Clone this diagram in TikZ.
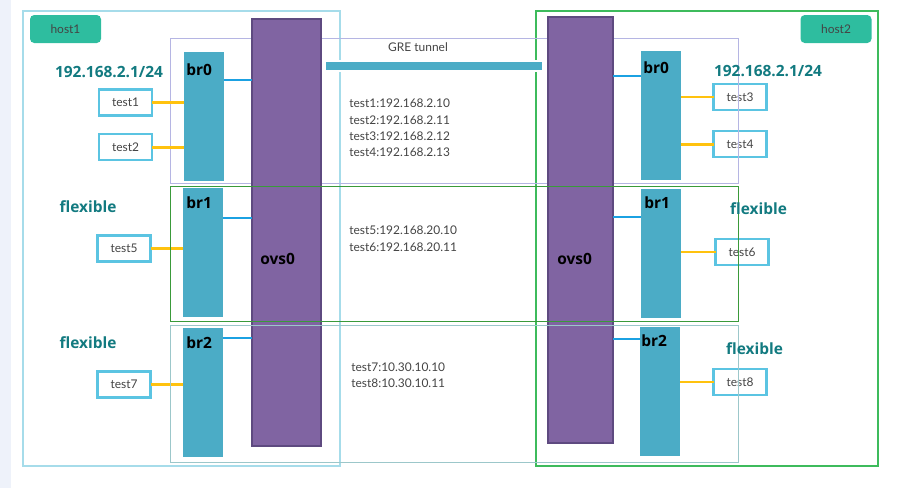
\documentclass[tikz,border=0pt]{standalone}
\usepackage{fontspec}
\setmainfont{Lato}
\newfontfamily\boldlbl{Open Sans}
\usepackage{xcolor}
\usetikzlibrary{positioning,shadows}

\definecolor{stripgrey}{HTML}{EEF2FA}
\definecolor{host1edge}{HTML}{A6DCEA}
\definecolor{host2edge}{HTML}{3DBB5C}
\definecolor{net0edge}{HTML}{B5B5E3}
\definecolor{net1edge}{HTML}{3A9A3A}
\definecolor{net2edge}{HTML}{9CC7CA}
\definecolor{ovspurple}{HTML}{8064A2}
\definecolor{ovsedge}{HTML}{5E4A80}
\definecolor{brblue}{HTML}{4BACC6}
\definecolor{testedge}{HTML}{5BC4E2}
\definecolor{vethyellow}{HTML}{FFC20E}
\definecolor{linkblue}{HTML}{1BA1E2}
\definecolor{netteal}{HTML}{127A80}
\definecolor{txtgray}{HTML}{444444}
\definecolor{hostteal}{HTML}{2EBD9F}

\newcommand{\pxu}{0.025cm}

\begin{document}
\begin{tikzpicture}[x=\pxu,y=-\pxu]
\tikzset{
  pxbox/.style 2 args={rectangle,inner sep=0pt,outer sep=0pt,minimum width=#1*\pxu,minimum height=#2*\pxu},
  ovsbox/.style={fill=ovspurple,draw=ovsedge,line width=0.9pt},
  brbox/.style={pxbox={40}{129},fill=brblue},
  testbox/.style={pxbox={53}{26},draw=testedge,line width=1.5pt,fill=white,text=txtgray,font=\fontsize{8.5}{10}\selectfont},
  hostlbl/.style={pxbox={71}{28},fill=hostteal,rounded corners=3pt,text=txtgray,font=\fontsize{8.5}{10}\selectfont},
  netlbl/.style={inner sep=0pt,text=netteal,font=\boldlbl\bfseries\fontsize{11}{13}\selectfont},
  brtxt/.style={anchor=west,inner sep=0pt,font=\boldlbl\bfseries\fontsize{11}{13}\selectfont},
  iptxt/.style={anchor=west,inner sep=0pt,align=left,text=txtgray,font=\fontsize{8.5}{11.7}\selectfont},
  vethlink/.style={draw=vethyellow,line width=1.7pt},
  ovslink/.style={draw=linkblue,line width=1.3pt},
  frame/.style={line width=0.7pt}
}
\useasboundingbox (0,0) rectangle (907,488);
\fill[stripgrey] (0,0) rectangle (11,488);

% hosts
\draw[frame,host1edge,line width=0.9pt] (23,11) rectangle (340,466);
\draw[frame,host2edge,line width=1.1pt] (536,11) rectangle (878,466);

% test ports
\node[testbox] (test1) at (125.5,102.5) {test1};
\node[testbox] (test2) at (125.5,147.3) {test2};
\node[testbox] (test5) at (124,248.5) {test5};
\node[testbox] (test7) at (124,384.5) {test7};
\node[testbox] (test3) at (740,97) {test3};
\node[testbox] (test4) at (740,144.3) {test4};
\node[testbox] (test6) at (742,252) {test6};
\node[testbox] (test8) at (740,382) {test8};

\draw[frame,net0edge] (170,38) rectangle (738,183);

% switches and bridges
\node[ovsbox,pxbox={69}{427}] (ovsL) at (286.5,232.5) {};
\node[ovsbox,pxbox={65}{426}] (ovsR) at (580.5,230) {};

\node[brbox] (br0L) at (204,116.5) {};
\node[brbox] (br1L) at (203,252.5) {};
\node[brbox] (br2L) at (203,392.5) {};
\node[brbox] (br0R) at (661,115.5) {};
\node[brbox] (br1R) at (661,253.5) {};
\node[brbox] (br2R) at (660,391.5) {};

\draw[vethlink] (test1.east) -- (test1.east -| br0L.west);
\draw[vethlink] (test2.east) -- (test2.east -| br0L.west);
\draw[vethlink] (test5.east) -- (test5.east -| br1L.west);
\draw[vethlink] (test7.east) -- (test7.east -| br2L.west);
\draw[vethlink] (br0R.east |- test3.west) -- (test3.west);
\draw[vethlink] (br0R.east |- test4.west) -- (test4.west);
\draw[vethlink] (br1R.east |- test6.west) -- (test6.west);
\draw[vethlink] (br2R.east |- test8.west) -- (test8.west);

\draw[ovslink] (br0L.east |- 0,80) -- (ovsL.west |- 0,80);
\draw[ovslink] (br1L.east |- 0,218) -- (ovsL.west |- 0,218);
\draw[ovslink] (br2L.east |- 0,338) -- (ovsL.west |- 0,338);
\draw[ovslink] (ovsR.east |- 0,76) -- (br0R.west |- 0,76);
\draw[ovslink] (ovsR.east |- 0,217) -- (br1R.west |- 0,217);
\draw[ovslink] (ovsR.east |- 0,339) -- (br2R.west |- 0,339);

\draw[frame,net1edge] (170,186.5) rectangle (738,321);
\draw[frame,net2edge] (170,325) rectangle (738,462);

% labels
\node[brtxt] (br0Ltxt) at (186,70) {br0};
\node[brtxt] (br1Ltxt) at (186,203) {br1};
\node[brtxt] (br2Ltxt) at (186,343) {br2};
\node[brtxt] (br0Rtxt) at (643,68) {br0};
\node[brtxt] (br1Rtxt) at (644,203) {br1};
\node[brtxt] (br2Rtxt) at (641,341) {br2};
\node[brtxt] (ovsLtxt) at (260,259) {ovs0};
\node[brtxt] (ovsRtxt) at (557,259) {ovs0};

\node[netlbl] (net0L) at (109,72) {192.168.2.1/24};
\node[netlbl] (net0R) at (768,71) {192.168.2.1/24};
\node[netlbl] (net1L) at (88,206.7) {flexible};
\node[netlbl] (net2L) at (88,342.7) {flexible};
\node[netlbl] (net1R) at (758.5,209) {flexible};
\node[netlbl] (net2R) at (754.5,349) {flexible};

\node[hostlbl] (host1) at (65.5,29) {host1};
\node[hostlbl] (host2) at (836,29) {host2};

% tunnel
\node[pxbox={218}{10},fill=brblue,draw=white,line width=0.8pt,
  drop shadow={shadow xshift=0.8pt,shadow yshift=-0.8pt,opacity=0.35}] (gre) at (434,66) {};
\node[inner sep=0pt,text=txtgray,font=\fontsize{8.5}{10}\selectfont] (gretxt) at (418,47) {GRE tunnel};

\node[iptxt] (ip0) at (349,128) {test1:192.168.2.10\\test2:192.168.2.11\\test3:192.168.2.12\\test4:192.168.2.13};
\node[iptxt] (ip1) at (349,238.7) {test5:192.168.20.10\\test6:192.168.20.11};
\node[iptxt] (ip2) at (351,375) {test7:10.30.10.10\\test8:10.30.10.11};
\end{tikzpicture}
\end{document}
